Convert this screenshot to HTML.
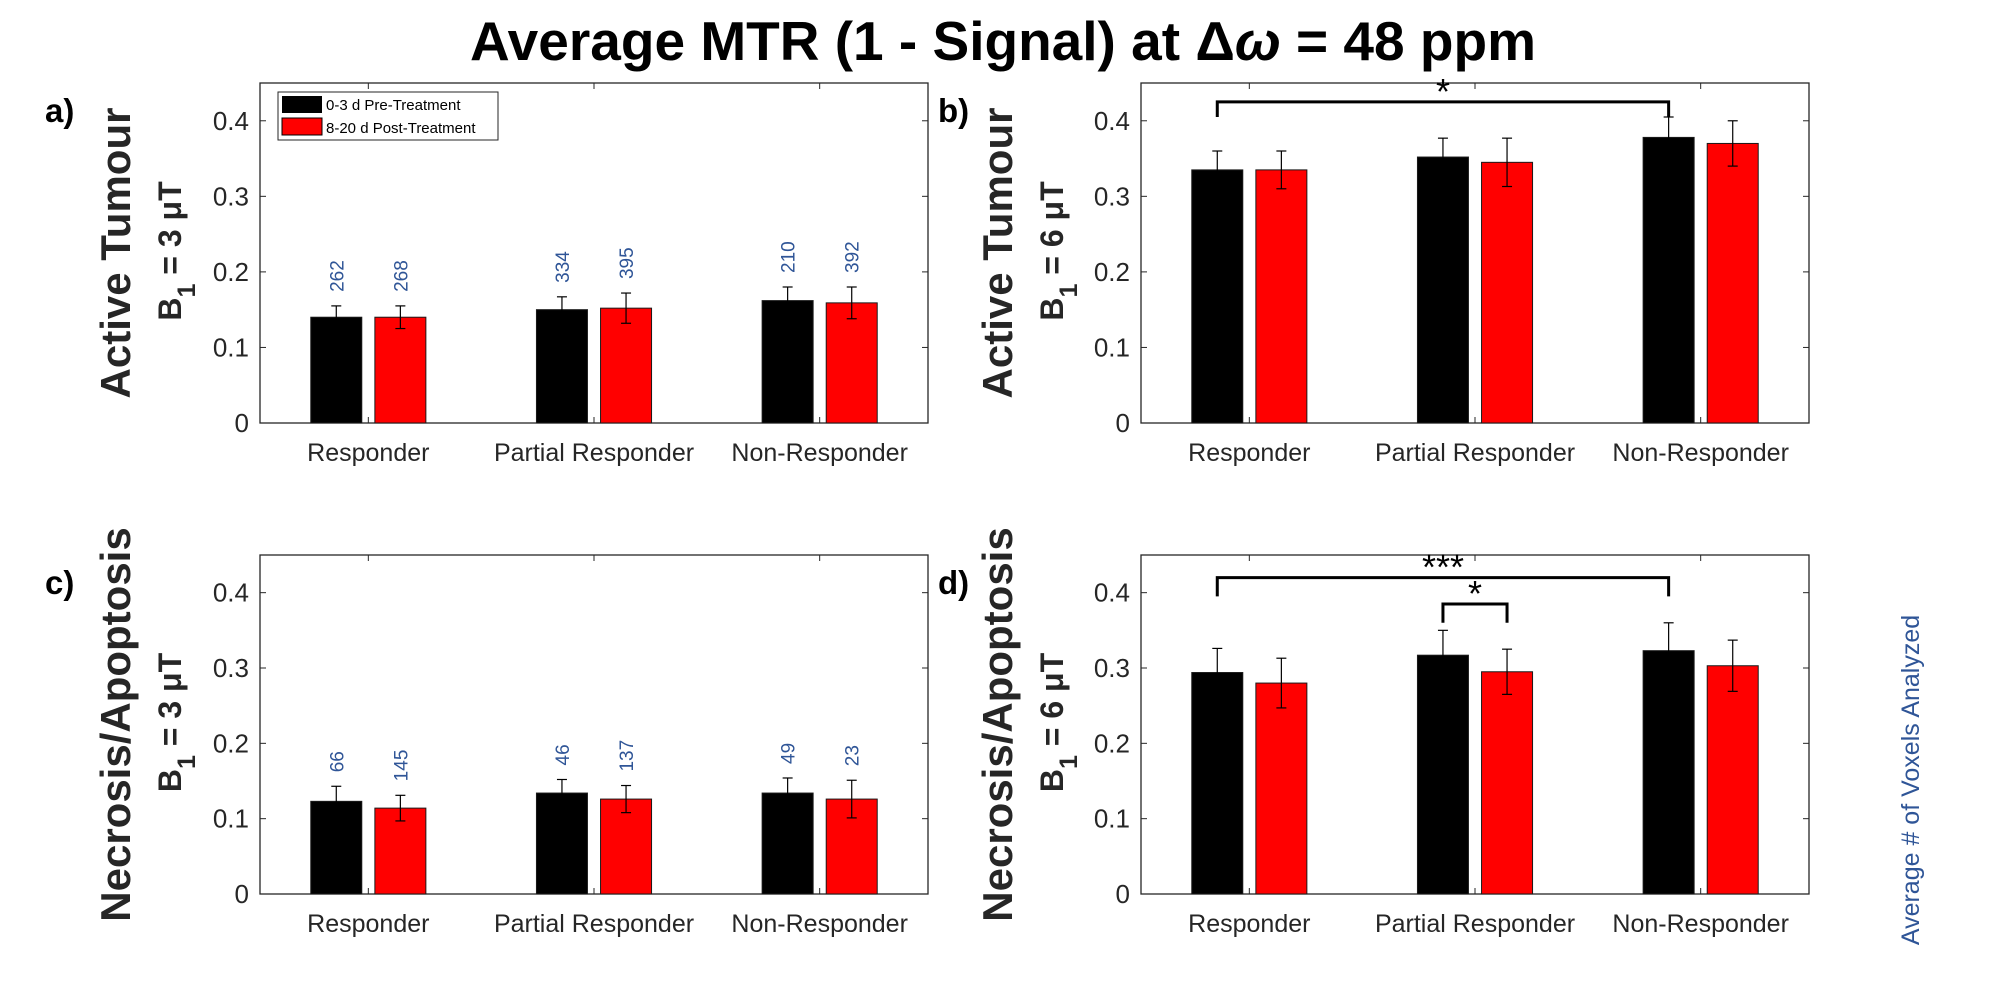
<!DOCTYPE html>
<html><head><meta charset="utf-8"><style>
html,body{margin:0;padding:0;background:#fff;}
svg{display:block;font-family:"Liberation Sans",sans-serif;}
</style></head><body>
<svg id="fig" width="2000" height="1005" viewBox="0 0 2000 1005" xmlns="http://www.w3.org/2000/svg">
<rect width="2000" height="1005" fill="#fff"/>
<text x="1003" y="60" text-anchor="middle" font-size="55" font-weight="bold" fill="#000">Average MTR (1 - Signal) at Δ<tspan font-style="italic">ω</tspan> = 48 ppm</text>
<text transform="translate(1919,780) rotate(-90)" text-anchor="middle" font-size="25" fill="#2f5597">Average # of Voxels Analyzed</text>
<g id="panels"></g>
</svg>
<script>
const categories = ["Responder","Partial Responder","Non-Responder"];
const yTicks = [0,0.1,0.2,0.3,0.4];
const yTickLabels = ["0","0.1","0.2","0.3","0.4"];
const aPre = [0.140,0.150,0.162], aPost = [0.140,0.152,0.159];
const aPreErr = [0.015,0.017,0.018], aPostErr = [0.015,0.020,0.021];
const aPreN = ["262","334","210"], aPostN = ["268","395","392"];
const bPre = [0.335,0.352,0.378], bPost = [0.335,0.345,0.370];
const bPreErr = [0.025,0.025,0.027], bPostErr = [0.025,0.032,0.030];
const cPre = [0.123,0.134,0.134], cPost = [0.114,0.126,0.126];
const cPreErr = [0.020,0.018,0.020], cPostErr = [0.017,0.018,0.025];
const cPreN = ["66","46","49"], cPostN = ["145","137","23"];
const dPre = [0.294,0.317,0.323], dPost = [0.280,0.295,0.303];
const dPreErr = [0.032,0.033,0.037], dPostErr = [0.033,0.030,0.034];

const NS="http://www.w3.org/2000/svg";
const root=document.getElementById('panels');
function mk(tag,attrs,parent,text){const e=document.createElementNS(NS,tag);for(const k in attrs)e.setAttribute(k,attrs[k]);if(text!==undefined)e.textContent=text;(parent||root).appendChild(e);return e;}

function panel(id,L,R,T,B,pre,post,preErr,postErr,preN,postN,letter,letterX,row,rowX,b1,brackets){
  const g=mk('g',{});
  
  
  const ymax=0.45, xmin=0.52, xmax=3.48;
  const ys=v=>B-(v/ymax)*(B-T);
  const xs=v=>L+(v-xmin)/(xmax-xmin)*(R-L);
  const bw=(R-L)/(xmax-xmin)*0.226;
  const off=0.142;
  const box=mk('rect',{x:L,y:T,width:R-L,height:B-T,fill:'none',stroke:'#262626','stroke-width':1.3},g);
  
  
  yTicks.forEach((t,i)=>{
    const y=ys(t);
    mk('line',{x1:L,x2:L+6,y1:y,y2:y,stroke:'#262626'},g);
    mk('line',{x1:R,x2:R-6,y1:y,y2:y,stroke:'#262626'},g);
    const tl=mk('text',{x:L-11,y:y+9,'text-anchor':'end','font-size':26,fill:'#262626'},g,yTickLabels[i]);
    
    
  });
  categories.forEach((c,i)=>{
    const x=xs(i+1);
    mk('line',{x1:x,x2:x,y1:B,y2:B-6,stroke:'#262626'},g);
    mk('line',{x1:x,x2:x,y1:T,y2:T+6,stroke:'#262626'},g);
    const cl=mk('text',{x:x,y:B+38,'text-anchor':'middle','font-size':25,fill:'#262626'},g,c);
    
    
    [[pre,preErr,preN,'#000',-off,'pre'],[post,postErr,postN,'#ff0000',off,'post']].forEach(s=>{
      const v=s[0][i],e=s[1][i],cx=xs(i+1+s[4]);
      const r=mk('rect',{x:cx-bw/2,y:ys(v),width:bw,height:B-ys(v),fill:s[3],stroke:'#1a1a1a','stroke-width':1},g);
      
      
      const eb=mk('g',{stroke:'#000','stroke-width':1.2},g);
      
      
      mk('line',{x1:cx,x2:cx,y1:ys(v-e),y2:ys(v+e)},eb);
      mk('line',{x1:cx-5,x2:cx+5,y1:ys(v-e),y2:ys(v-e)},eb);
      mk('line',{x1:cx-5,x2:cx+5,y1:ys(v+e),y2:ys(v+e)},eb);
      if(s[2]){
        const ty=ys(v+e)-14;
        const nt=mk('text',{transform:`translate(${cx+7},${ty}) rotate(-90)`,'font-size':19,fill:'#2f5597'},g,s[2][i]);
        
        
      }
    });
  });
  (brackets||[]).forEach(bk=>{
    const x1=xs(bk[0]),x2=xs(bk[1]),y=ys(bk[2]),yl=ys(bk[3]);
    const p=mk('path',{d:`M${x1},${yl} L${x1},${y} L${x2},${y} L${x2},${yl}`,fill:'none',stroke:'#000','stroke-width':3},g);
    
    
    const st=mk('text',{x:(x1+x2)/2,y:y+2,'text-anchor':'middle','font-size':36,fill:'#000'},g,bk[4]);
    
    
  });
  const pl=mk('text',{x:letterX,y:T+39,'font-size':33,'font-weight':'bold'},g,letter);
  
  
  const mid=(T+B)/2;
  const rl=mk('text',{transform:`translate(${rowX},${mid}) rotate(-90)`,'text-anchor':'middle','font-size':42,'font-weight':'bold',fill:'#262626'},g,row);
  
  
  const bl=mk('text',{transform:`translate(${rowX+51},${mid-2}) rotate(-90)`,'text-anchor':'middle','font-size':32,'font-weight':'bold',fill:'#262626'},g);
  
  
  mk('tspan',{},bl,'B');
  mk('tspan',{dy:14,'font-size':25},bl,'1');
  mk('tspan',{dy:-14},bl,' = '+b1+' μT');
  return {g,xs,ys};
}
const A=panel('a',260,928,83,423,aPre,aPost,aPreErr,aPostErr,aPreN,aPostN,'a)',45,'Active Tumour',130,'3');
const lg=mk('g',{},A.g);


mk('rect',{x:278,y:92,width:220,height:48,fill:'#fff',stroke:'#262626'},lg);
mk('rect',{x:282,y:96,width:40,height:17,fill:'#000'},lg);
mk('rect',{x:282,y:118,width:40,height:17,fill:'#ff0000',stroke:'#000'},lg);
const l1=mk('text',{x:326,y:110,'font-size':15,fill:'#000'},lg,'0-3 d Pre-Treatment');


const l2=mk('text',{x:326,y:133,'font-size':15,fill:'#000'},lg,'8-20 d Post-Treatment');


panel('b',1141,1809,83,423,bPre,bPost,bPreErr,bPostErr,null,null,'b)',938,'Active Tumour',1012,'6',[[0.858,2.858,0.425,0.405,'*']]);
panel('c',260,928,555,894,cPre,cPost,cPreErr,cPostErr,cPreN,cPostN,'c)',45,'Necrosis/Apoptosis',130,'3');
panel('d',1141,1809,555,894,dPre,dPost,dPreErr,dPostErr,null,null,'d)',938,'Necrosis/Apoptosis',1012,'6',[[0.858,2.858,0.42,0.395,'***'],[1.858,2.142,0.385,0.36,'*']]);
</script>
</body></html>
